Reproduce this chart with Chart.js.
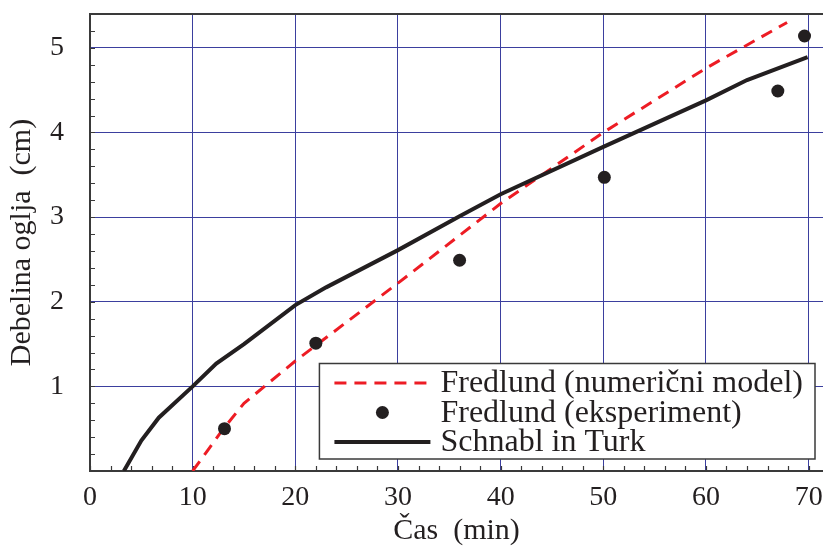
<!DOCTYPE html>
<html>
<head>
<meta charset="utf-8">
<script src="https://cdn.jsdelivr.net/npm/chart.js@4/dist/chart.umd.min.js"></script>
<style>
  body { margin: 0; background: #ffffff; }
  #wrap { width: 823px; height: 547px; }
</style>
</head>
<body>
<div id="wrap"><canvas id="oglje"></canvas></div>
<script>
// ===============================
// DATA
// ===============================

const modelX = [10, 11.5, 13, 15, 20, 30, 40, 50, 60, 67.9];
const modelY = [0, 0.25, 0.5, 0.8, 1.3, 2.22, 3.16, 4.0, 4.76, 5.3];

const expX = [13.1, 22, 36, 50.1, 67, 69.6];
const expY = [0.5, 1.51, 2.49, 3.47, 4.49, 5.14];

const stX = [3.3, 5, 6.7, 10, 12.3, 15, 20, 23, 30, 36, 40, 50, 60, 64, 69.9];
const stY = [0, 0.36, 0.63, 1.0, 1.27, 1.5, 1.96, 2.17, 2.61, 3.01, 3.27, 3.83, 4.38, 4.62, 4.89];

const xTickValues = [0, 10, 20, 30, 40, 50, 60, 70];
const yTickValues = [1, 2, 3, 4, 5];

const seriesLabels = [
  "Fredlund (numerični model)",
  "Fredlund (eksperiment)",
  "Schnabl in Turk"
];

const xTitle = "Čas  (min)";
const yTitle = "Debelina oglja  (cm)";

// ===============================
// STYLE
// ===============================

const SERIF = '"Liberation Serif", "Times New Roman", serif';
const INK = "#231f20";
const RED = "#ed1c24";
const GRID = "#3b3f9e";
const AXIS = "#3a3a3a";

function toPoints(xs, ys) {
  return xs.map((x, i) => ({ x: x, y: ys[i] }));
}

// inward tick marks + top frame line
const framePlugin = {
  id: "frame",
  beforeDatasetsDraw(chart) {
    const { ctx, chartArea, scales } = chart;
    const xs = scales.x;
    const ys = scales.y;
    ctx.save();
    ctx.strokeStyle = AXIS;
    ctx.lineWidth = 1.2;
    ctx.beginPath();
    for (let v = 0; v <= xs.max; v += 2) {
      const px = Math.round(xs.getPixelForValue(v)) + 0.5;
      ctx.moveTo(px, chartArea.bottom);
      ctx.lineTo(px, chartArea.bottom - 5);
    }
    for (let v = 0; v <= ys.max + 1e-9; v += 0.2) {
      const py = Math.round(ys.getPixelForValue(v)) + 0.5;
      ctx.moveTo(chartArea.left, py);
      ctx.lineTo(chartArea.left + 5, py);
    }
    ctx.stroke();
    ctx.lineWidth = 2;
    ctx.beginPath();
    ctx.moveTo(chartArea.left - 1, chartArea.top);
    ctx.lineTo(chartArea.right, chartArea.top);
    ctx.stroke();
    ctx.restore();
  }
};

// boxed legend in the lower right corner of the plot
const boxLegendPlugin = {
  id: "boxLegend",
  afterDraw(chart) {
    const { ctx, chartArea } = chart;
    const sets = chart.data.datasets;
    ctx.save();
    ctx.font = "32px " + SERIF;
    let textW = 0;
    sets.forEach(ds => { textW = Math.max(textW, ctx.measureText(ds.label).width); });

    const rowH = 29.5;
    const sampleW = 96;
    const boxW = 15 + sampleW + 10 + textW + 12;
    const boxH = rowH * sets.length + 7;
    const right = chartArea.right - 8;
    const bottom = chartArea.bottom - 12;
    const left = right - boxW;
    const top = bottom - boxH;

    ctx.fillStyle = "#ffffff";
    ctx.fillRect(left, top, boxW, boxH);
    ctx.strokeStyle = AXIS;
    ctx.lineWidth = 1.5;
    ctx.strokeRect(left, top, boxW, boxH);

    sets.forEach((ds, i) => {
      const cy = top + 19.5 + i * rowH;
      const sx = left + 15;
      if (ds.showLine) {
        ctx.strokeStyle = ds.borderColor;
        ctx.lineWidth = ds.borderWidth;
        ctx.setLineDash(ds.borderDash || []);
        ctx.beginPath();
        ctx.moveTo(sx, cy);
        ctx.lineTo(sx + sampleW, cy);
        ctx.stroke();
        ctx.setLineDash([]);
      } else {
        ctx.fillStyle = ds.backgroundColor;
        ctx.beginPath();
        ctx.arc(sx + sampleW / 2, cy, ds.pointRadius, 0, Math.PI * 2);
        ctx.fill();
      }
      ctx.fillStyle = INK;
      ctx.textAlign = "left";
      ctx.textBaseline = "middle";
      ctx.fillText(ds.label, sx + sampleW + 10, cy + 1);
    });
    ctx.restore();
  }
};

new Chart(document.getElementById("oglje"), {
  type: "scatter",
  data: {
    datasets: [
      {
        label: seriesLabels[0],
        data: toPoints(modelX, modelY),
        showLine: true,
        borderColor: RED,
        backgroundColor: RED,
        borderWidth: 3,
        borderDash: [12, 8],
        pointRadius: 0,
        tension: 0,
        order: 3
      },
      {
        label: seriesLabels[1],
        data: toPoints(expX, expY),
        showLine: false,
        borderColor: INK,
        backgroundColor: INK,
        pointRadius: 6.5,
        pointBorderWidth: 0,
        order: 1
      },
      {
        label: seriesLabels[2],
        data: toPoints(stX, stY),
        showLine: true,
        borderColor: INK,
        backgroundColor: INK,
        borderWidth: 4,
        pointRadius: 0,
        tension: 0,
        order: 2
      }
    ]
  },
  options: {
    responsive: true,
    maintainAspectRatio: false,
    animation: false,
    events: [],
    layout: { autoPadding: false, padding: { top: 14, left: 0, right: 0, bottom: 0 } },
    plugins: {
      legend: { display: false },
      tooltip: { enabled: false }
    },
    scales: {
      x: {
        type: "linear",
        min: 0,
        max: 71.4,
        afterBuildTicks: axis => { axis.ticks = xTickValues.map(v => ({ value: v })); },
        afterFit: s => { s.height = 76; s.paddingLeft = 0; s.paddingRight = 0; },
        grid: { color: GRID, lineWidth: 1, drawTicks: false },
        border: { color: AXIS, width: 2 },
        ticks: { color: INK, padding: 10, maxRotation: 0, font: { family: SERIF, size: 28 } },
        title: {
          display: true,
          text: xTitle,
          color: INK,
          font: { family: SERIF, size: 30, lineHeight: 1.0 },
          padding: { top: 0, bottom: 1 }
        }
      },
      y: {
        type: "linear",
        min: 0,
        max: 5.4,
        afterBuildTicks: axis => { axis.ticks = yTickValues.map(v => ({ value: v })); },
        afterFit: s => { s.width = 90; s.paddingTop = 0; s.paddingBottom = 0; },
        grid: { color: GRID, lineWidth: 1, drawTicks: false },
        border: { color: AXIS, width: 2 },
        ticks: { color: INK, padding: 26, font: { family: SERIF, size: 28 } },
        title: {
          display: true,
          text: yTitle,
          color: INK,
          font: { family: SERIF, size: 30, lineHeight: 1.0 },
          padding: { top: 7, bottom: 0 }
        }
      }
    }
  },
  plugins: [framePlugin, boxLegendPlugin]
});
</script>
</body>
</html>
